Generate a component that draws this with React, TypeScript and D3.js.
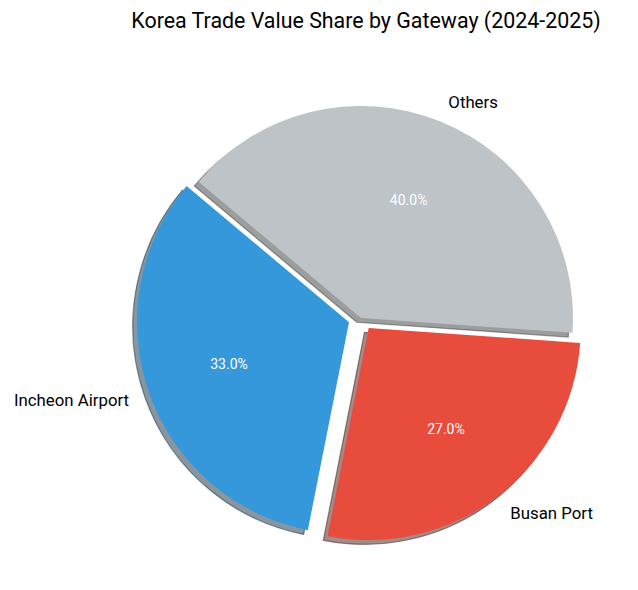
import React from 'react';
import * as d3 from 'd3';

const categories: string[] = ['Incheon Airport', 'Busan Port', 'Others'];
const shares: number[] = [33, 27, 40];
const colors: string[] = ['#3498db', '#e74c3c', '#bdc3c7'];
const explode: number[] = [0.06, 0.06, 0];
const title = 'Korea Trade Value Share by Gateway (2024-2025)';

const W = 638;
const H = 590;
const CX = 361;
const CY = 318;
const R = 212;
const START_DEG = 140; // matplotlib-style start angle, counterclockwise
const FONT = 'Roboto, "Open Sans", sans-serif';

export default function App() {
  const deg = Math.PI / 180;
  const pie = d3
    .pie<number>()
    .sort(null)
    .value((d) => d)
    .startAngle((90 - START_DEG) * deg)
    .endAngle((90 - START_DEG - 360) * deg);
  const arcs = pie(shares);
  const arcGen = d3.arc<d3.PieArcDatum<number>>().innerRadius(0).outerRadius(R);
  const total = d3.sum(shares);
  const shadowOff = 0.02 * R;

  const items = arcs.map((a, i) => {
    const mid = (a.startAngle + a.endAngle) / 2;
    const ux = Math.sin(mid);
    const uy = -Math.cos(mid);
    const ox = explode[i] * R * ux;
    const oy = explode[i] * R * uy;
    const base = d3.rgb(colors[i]);
    const shadow = d3.rgb(base.r * 0.3, base.g * 0.3, base.b * 0.3).formatHex();
    return { a, i, ux, uy, ox, oy, shadow, path: arcGen(a) || '' };
  });

  return (
    <svg
      width={W}
      height={H}
      style={{ position: 'absolute', left: 0, top: 0, background: '#fff' }}
      fontFamily={FONT}
    >
      <text x={366} y={28} textAnchor="middle" fontSize={21.4} fill="#000">
        {title}
      </text>
      <g transform={`translate(${CX},${CY})`}>
        {items.map((it) => (
          <path
            key={'s' + it.i}
            d={it.path}
            transform={`translate(${it.ox - shadowOff},${it.oy + shadowOff})`}
            fill={it.shadow}
            fillOpacity={0.5}
            stroke={it.shadow}
            strokeOpacity={0.5}
            strokeWidth={1.2}
          />
        ))}
        {items.map((it) => (
          <path
            key={'w' + it.i}
            d={it.path}
            transform={`translate(${it.ox},${it.oy})`}
            fill={colors[it.i]}
          />
        ))}
        {items.map((it) => {
          const lx = it.ox + 1.1 * R * it.ux;
          const ly = it.oy + 1.1 * R * it.uy;
          return (
            <text
              key={'l' + it.i}
              x={lx}
              y={ly}
              textAnchor={lx > 0 ? 'start' : 'end'}
              dominantBaseline="central"
              fontSize={16.8}
              fill="#000"
            >
              {categories[it.i]}
            </text>
          );
        })}
        {items.map((it) => {
          const px = it.ox + 0.6 * R * it.ux;
          const py = it.oy + 0.6 * R * it.uy;
          return (
            <text
              key={'p' + it.i}
              x={px}
              y={py}
              textAnchor="middle"
              dominantBaseline="central"
              fontSize={14}
              fill="#fff"
            >
              {((shares[it.i] / total) * 100).toFixed(1) + '%'}
            </text>
          );
        })}
      </g>
    </svg>
  );
}
